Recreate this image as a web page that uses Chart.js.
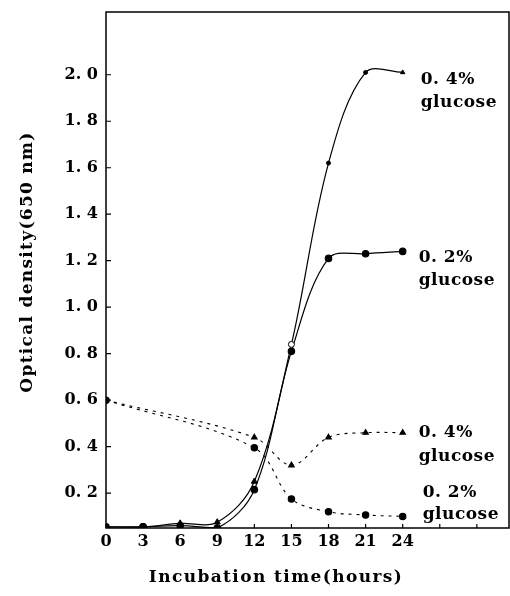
<!DOCTYPE html>
<html>
<head>
<meta charset="utf-8">
<script src="https://cdn.jsdelivr.net/npm/chart.js@4.4.1/dist/chart.umd.min.js"></script>
<style>
  html, body { margin: 0; padding: 0; background: #fff; overflow: hidden; }
  canvas { display: block; }
</style>
</head>
<body>
<canvas id="chart" width="510" height="596"></canvas>
<script>
// optical density, sampled every 3 hours
const hours = [0, 3, 6, 9, 12, 15, 18, 21, 24];
const od04 = [0.055, 0.055, 0.07, 0.075, 0.25, 0.84, 1.62, 2.01, 2.01];
const od02 = [0.055, 0.055, 0.06, 0.05, 0.215, 0.81, 1.21, 1.23, 1.24];

// residual glucose (dashed curves)
const glucoseHours = [0, 12, 15, 18, 21, 24];
const glucose04 = [0.60, 0.44, 0.32, 0.44, 0.46, 0.46];
const glucose02 = [0.60, 0.395, 0.175, 0.12, 0.106, 0.10];

const xTicks = [0, 3, 6, 9, 12, 15, 18, 21, 24, 27, 30];
const xTickLabels = ["0", "3", "6", "9", "12", "15", "18", "21", "24", "", ""];
const yTicks = [0.2, 0.4, 0.6, 0.8, 1.0, 1.2, 1.4, 1.6, 1.8, 2.0];

const seriesLabels = [
  ["0. 4%", "glucose"],
  ["0. 2%", "glucose"],
  ["0. 4%", "glucose"],
  ["0. 2%", "glucose"]
];
// label offset from the last point of each series: [dx, dy, lineGap]
const labelOffsets = [[18, 7, 23], [16, 6, 23], [16, 0, 24], [20, -24, 22]];

const FONT = '"DejaVu Serif", "Liberation Serif", serif';

function toPoints(xs, ys) {
  return xs.map((x, i) => ({ x: x, y: ys[i] }));
}

const frameAndText = {
  id: "frameAndText",
  afterDraw(chart) {
    const { ctx, chartArea: a, scales } = chart;
    const x = scales.x;
    const y = scales.y;
    ctx.save();

    // box round the plot
    ctx.strokeStyle = "#000";
    ctx.lineWidth = 1.5;
    ctx.strokeRect(a.left, a.top, a.right - a.left, a.bottom - a.top);

    // ticks point inward
    ctx.lineWidth = 1.2;
    ctx.beginPath();
    x.ticks.forEach(t => {
      const px = x.getPixelForValue(t.value);
      ctx.moveTo(px, a.bottom);
      ctx.lineTo(px, a.bottom - 4);
    });
    y.ticks.forEach(t => {
      const py = y.getPixelForValue(t.value);
      ctx.moveTo(a.left, py);
      ctx.lineTo(a.left + 5, py);
    });
    ctx.stroke();

    // curve labels
    ctx.fillStyle = "#000";
    ctx.font = "bold 17px " + FONT;
    ctx.textBaseline = "middle";
    ctx.textAlign = "left";
    ctx.letterSpacing = "0.5px";
    chart.data.datasets.forEach((ds, i) => {
      const last = ds.data[ds.data.length - 1];
      const off = labelOffsets[i];
      const px = x.getPixelForValue(last.x) + off[0];
      const py = y.getPixelForValue(last.y) + off[1];
      seriesLabels[i].forEach((line, j) => ctx.fillText(line, px, py + j * off[2]));
    });

    // axis titles
    ctx.textAlign = "center";
    ctx.font = "bold 17px " + FONT;
    ctx.letterSpacing = "1.4px";
    ctx.fillText("Incubation time(hours)", 276, 578);
    ctx.letterSpacing = "1.3px";
    ctx.translate(28, 262);
    ctx.rotate(-Math.PI / 2);
    ctx.fillText("Optical density(650 nm)", 0, 0);
    ctx.restore();
  }
};

new Chart(document.getElementById("chart"), {
  type: "line",
  data: {
    datasets: [
      {
        label: "OD 0.4% glucose",
        data: toPoints(hours, od04),
        borderColor: "#000",
        borderWidth: 1.2,
        pointStyle: ["triangle", "circle", "triangle", "triangle", "triangle", "circle", "circle", "circle", "triangle"],
        pointRadius: [3.5, 3.5, 3.5, 3.5, 3.5, 3, 2, 2, 2.5],
        pointBackgroundColor: ["#000", "#000", "#000", "#000", "#000", "#fff", "#000", "#000", "#000"],
        pointBorderColor: "#000",
        pointBorderWidth: 1,
        tension: 0.35
      },
      {
        label: "OD 0.2% glucose",
        data: toPoints(hours, od02),
        borderColor: "#000",
        borderWidth: 1.2,
        pointStyle: "circle",
        pointRadius: 3.2,
        pointBackgroundColor: "#000",
        pointBorderColor: "#000",
        tension: 0.35
      },
      {
        label: "glucose 0.4%",
        data: toPoints(glucoseHours, glucose04),
        borderColor: "#000",
        borderWidth: 1.1,
        borderDash: [3, 5],
        pointStyle: "triangle",
        pointRadius: 3.2,
        pointBackgroundColor: "#000",
        pointBorderColor: "#000",
        tension: 0.35
      },
      {
        label: "glucose 0.2%",
        data: toPoints(glucoseHours, glucose02),
        borderColor: "#000",
        borderWidth: 1.1,
        borderDash: [3, 5],
        pointStyle: "circle",
        pointRadius: 3.2,
        pointBackgroundColor: "#000",
        pointBorderColor: "#000",
        tension: 0.35
      }
    ]
  },
  options: {
    responsive: false,
    animation: false,
    layout: { autoPadding: false, padding: { top: 12, right: 1, left: 0, bottom: 0 } },
    plugins: {
      legend: { display: false },
      tooltip: { enabled: false }
    },
    scales: {
      x: {
        type: "linear",
        min: 0,
        max: 32.6,
        afterBuildTicks: s => { s.ticks = xTicks.map(v => ({ value: v })); },
        afterFit: s => {
          s.height = 68;
          s.paddingLeft = 0;
          s.paddingRight = 0;
        },
        grid: { display: false, drawTicks: false },
        border: { display: false },
        ticks: {
          color: "#000",
          padding: 4,
          font: { family: FONT, size: 16, weight: "bold" },
          maxRotation: 0,
          autoSkip: false,
          callback: (v, i) => xTickLabels[i]
        }
      },
      y: {
        type: "linear",
        min: 0.05,
        max: 2.27,
        afterBuildTicks: s => { s.ticks = yTicks.map(v => ({ value: v })); },
        afterFit: s => {
          s.width = 106;
          s.paddingTop = 0;
          s.paddingBottom = 0;
        },
        grid: { display: false, drawTicks: false },
        border: { display: false },
        ticks: {
          color: "#000",
          padding: 8,
          font: { family: FONT, size: 16, weight: "bold" },
          autoSkip: false,
          callback: v => v.toFixed(1).replace(".", ". ")
        }
      }
    }
  },
  plugins: [frameAndText]
});
</script>
</body>
</html>
